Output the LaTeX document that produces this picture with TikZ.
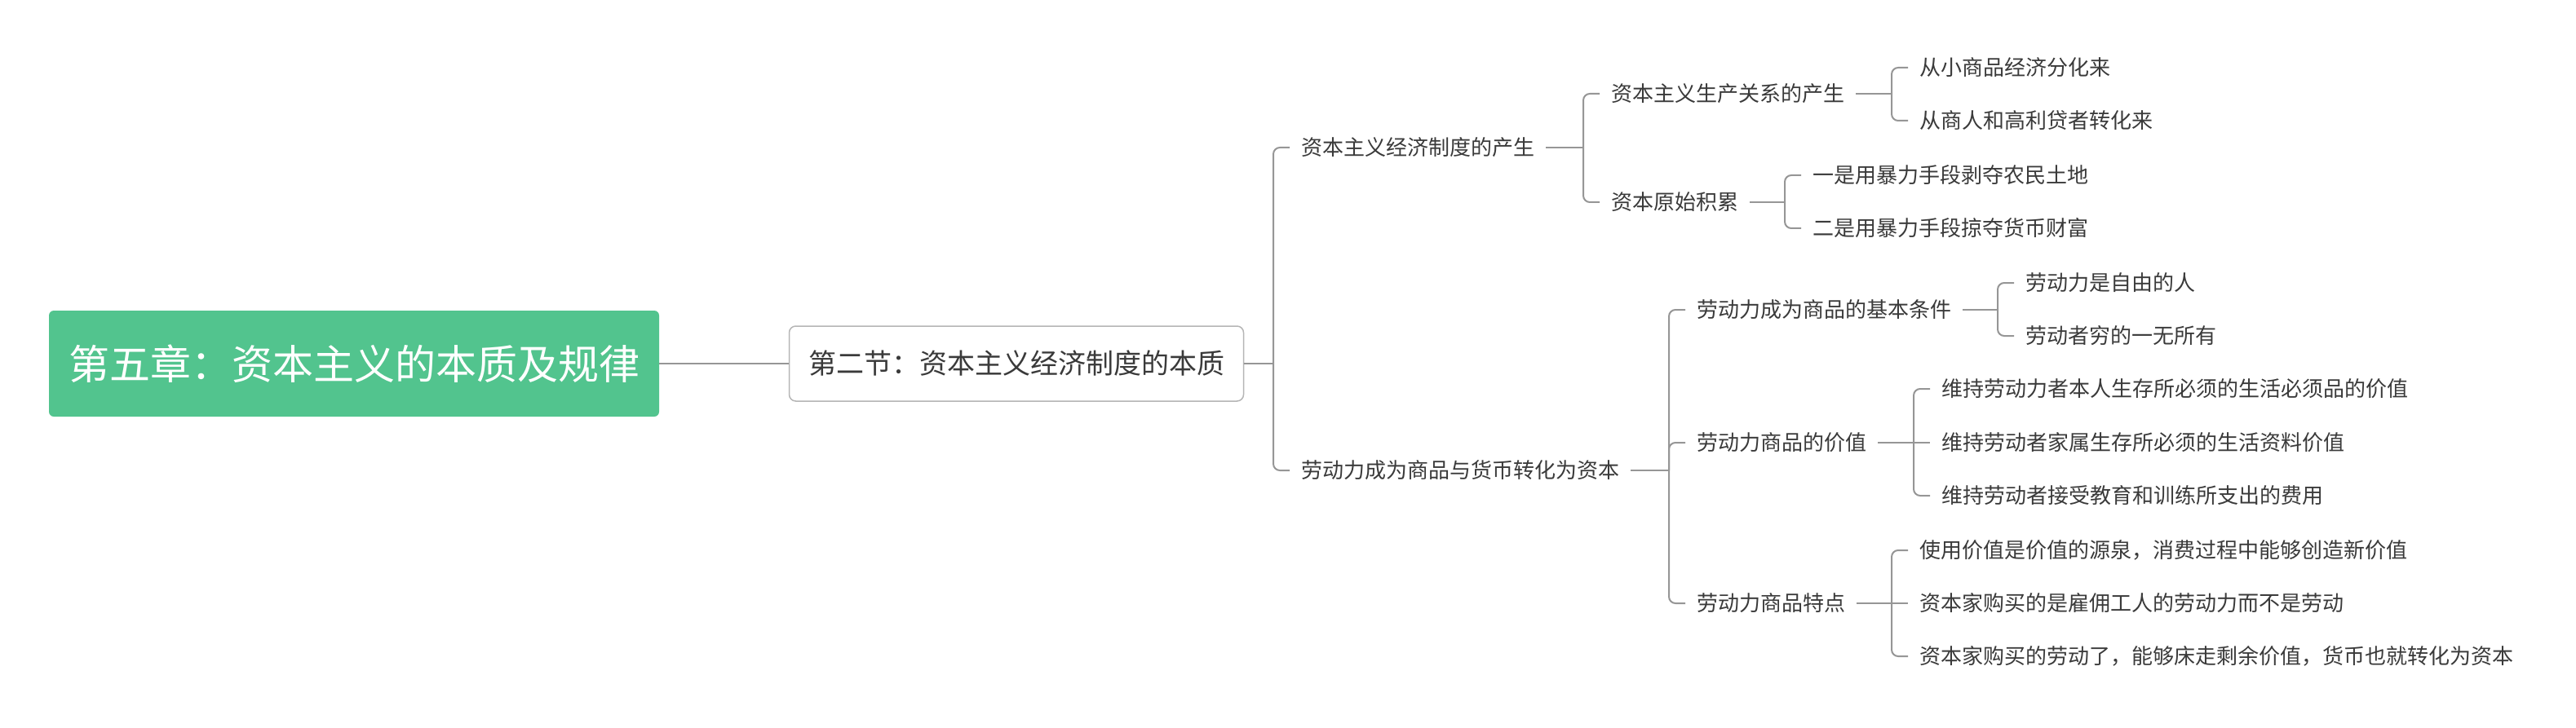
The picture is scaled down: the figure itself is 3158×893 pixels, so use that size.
\documentclass[tikz,border=0pt]{standalone}
\usepackage{fontspec}
\setmainfont{Noto Sans CJK SC}
\definecolor{rootgreen}{RGB}{82,196,142}
\definecolor{inkgray}{RGB}{58,58,58}
\definecolor{linegray}{RGB}{150,150,150}

\begin{document}
\begin{tikzpicture}[x=1pt,y=-1pt,
  rootbox/.style={fill=rootgreen,rounded corners=6pt,minimum width=748pt,minimum height=130pt,text=white,font=\fontsize{50pt}{56pt}\selectfont},
  secbox/.style={draw=linegray!70,line width=1.5pt,fill=white,rounded corners=8pt,minimum width=557pt,minimum height=92pt,text=inkgray,font=\fontsize{34pt}{40pt}\selectfont},
  topic/.style={anchor=west,inner xsep=14pt,inner ysep=4pt,text=inkgray,font=\fontsize{26pt}{30pt}\selectfont},
  link/.style={draw=linegray,line width=2pt}]
\useasboundingbox (0,0) rectangle (3158,893);
\node[rootbox] (root) at (434,446) {第五章：资本主义的本质及规律};
\node[secbox] (sec) at (1246,446) {第二节：资本主义经济制度的本质};
\node[topic] (a) at (1581,181) {资本主义经济制度的产生};
\node[topic] (b) at (1581,577) {劳动力成为商品与货币转化为资本};
\node[topic] (a1) at (1961,115) {资本主义生产关系的产生};
\node[topic] (a2) at (1961,248) {资本原始积累};
\node[topic] (a11) at (2339,83) {从小商品经济分化来};
\node[topic] (a12) at (2339,148) {从商人和高利贷者转化来};
\node[topic] (a21) at (2208,215) {一是用暴力手段剥夺农民土地};
\node[topic] (a22) at (2208,280) {二是用暴力手段掠夺货币财富};
\node[topic] (b1) at (2066,380) {劳动力成为商品的基本条件};
\node[topic] (b2) at (2066,543) {劳动力商品的价值};
\node[topic] (b3) at (2066,740) {劳动力商品特点};
\node[topic] (b11) at (2469,347) {劳动力是自由的人};
\node[topic] (b12) at (2469,412) {劳动者穷的一无所有};
\node[topic] (b21) at (2366,477) {维持劳动力者本人生存所必须的生活必须品的价值};
\node[topic] (b22) at (2366,543) {维持劳动者家属生存所必须的生活资料价值};
\node[topic] (b23) at (2366,608) {维持劳动者接受教育和训练所支出的费用};
\node[topic] (b31) at (2339,675) {使用价值是价值的源泉，消费过程中能够创造新价值};
\node[topic] (b32) at (2339,740) {资本家购买的是雇佣工人的劳动力而不是劳动};
\node[topic] (b33) at (2339,805) {资本家购买的劳动了，能够床走剩余价值，货币也就转化为资本};
\draw[link] (root.east) -- (sec.west);
\foreach \p/\c in {sec/a,sec/b,a/a1,a/a2,a1/a11,a1/a12,a2/a21,a2/a22,b/b1,b/b2,b/b3,b1/b11,b1/b12,b2/b21,b2/b23,b3/b31,b3/b33}
{
  \draw[link] (\p.east) -- ([xshift=-20pt]\p.east -| \c.west);
  \draw[link,rounded corners=8pt] ([xshift=-20pt]\p.east -| \c.west) |- (\c.west);
}
\foreach \p/\c in {b2/b22,b3/b32}
  \draw[link] ([xshift=-20pt]\p.east -| \c.west) -- (\c.west);
\end{tikzpicture}
\end{document}
